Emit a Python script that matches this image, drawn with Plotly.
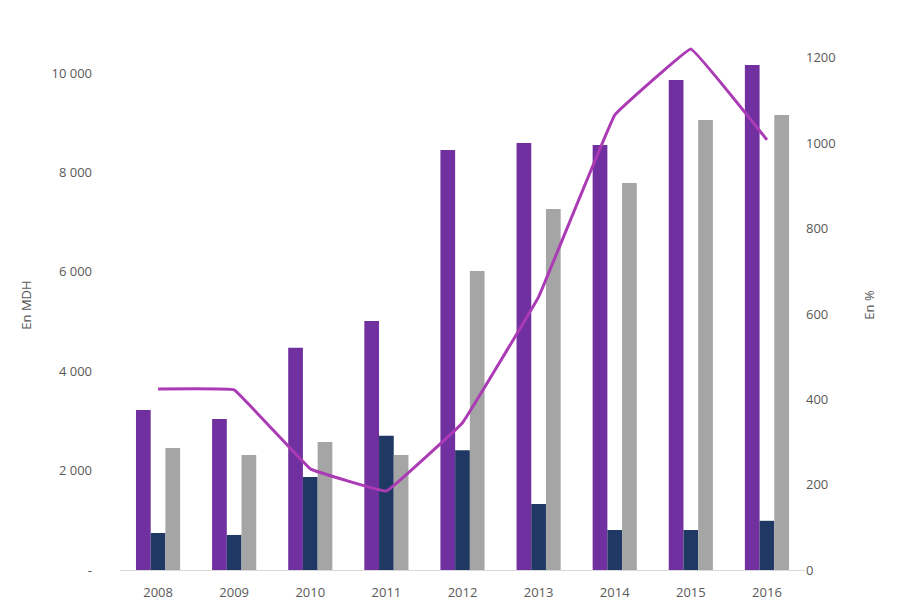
import plotly.graph_objects as go

years = ["2008", "2009", "2010", "2011", "2012", "2013", "2014", "2015", "2016"]
serie_violet = [3220, 3040, 4470, 5010, 8450, 8590, 8550, 9860, 10160]
serie_bleu = [745, 705, 1870, 2700, 2410, 1330, 805, 805, 990]
serie_gris = [2455, 2315, 2575, 2315, 6015, 7265, 7785, 9055, 9155]
taux = [424, 422, 237, 185, 345, 640, 1066, 1221, 1008]

left_ticks = [0, 2000, 4000, 6000, 8000, 10000]
left_ticktext = ["-", "2 000", "4 000", "6 000", "8 000", "10 000"]
right_ticks = [0, 200, 400, 600, 800, 1000, 1200]

font = dict(family="Open Sans, Liberation Sans, sans-serif", size=13, color="#595959")

fig = go.Figure()
fig.add_trace(go.Bar(x=years, y=serie_violet, marker=dict(color="#7030A0", line=dict(width=0)), name="A"))
fig.add_trace(go.Bar(x=years, y=serie_bleu, marker=dict(color="#1F3864", line=dict(width=0)), name="B"))
fig.add_trace(go.Bar(x=years, y=serie_gris, marker=dict(color="#A5A5A5", line=dict(width=0)), name="C"))
fig.add_trace(go.Scatter(x=years, y=taux, yaxis="y2", mode="lines",
                         line=dict(color="#AB3BB5", width=3, shape="spline", smoothing=0.15),
                         name="D"))

fig.update_layout(
    width=900, height=600,
    margin=dict(l=120, r=95, t=40, b=30),
    paper_bgcolor="white", plot_bgcolor="white",
    showlegend=False,
    barmode="group", bargap=0.42, bargroupgap=0,
    font=font,
    xaxis=dict(showline=True, linecolor="#D9D9D9", linewidth=1, showgrid=False,
               ticks="", tickfont=font, ticklabelstandoff=10, automargin=False),
    yaxis=dict(range=[0, 10664], tickvals=left_ticks, ticktext=left_ticktext,
               showgrid=False, zeroline=False, ticks="", ticklabelstandoff=27,
               automargin=False,
               title=dict(text="En MDH", font=font, standoff=16)),
    yaxis2=dict(range=[0, 1242], tickvals=right_ticks, overlaying="y", side="right",
                showgrid=False, zeroline=False, ticks="", automargin=False,
                title=dict(text="En %", font=font, standoff=30)),
)

fig.write_html("out.html")
